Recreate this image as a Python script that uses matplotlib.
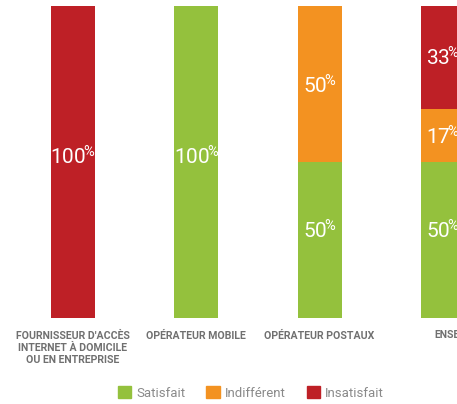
import numpy as np
import matplotlib.pyplot as plt
import matplotlib.transforms as mtransforms
from matplotlib.patches import Patch

plt.rcParams['font.family'] = ['Roboto', 'DejaVu Sans']
plt.rcParams['mathtext.default'] = 'regular'

categories = ["FOURNISSEUR D'ACCÈS\nINTERNET À DOMICILE\nOU EN ENTREPRISE",
              'OPÉRATEUR MOBILE', 'OPÉRATEUR POSTAUX', 'ENSEMBLE']
satisfait = np.array([0, 100, 50, 50])
indifferent = np.array([0, 0, 50, 17])
insatisfait = np.array([100, 0, 0, 33])
series_names = ['Satisfait', 'Indifférent', 'Insatisfait']
colors = ['#94c13d', '#f39221', '#be2026']
label_shift = [2.9, -0.6, -0.3]   # small nudges of the value labels (data units)

fig = plt.figure(figsize=(4.57, 4.04), dpi=100)
ax = fig.add_axes([0.0247, 0.2129, 1.0795, 0.7723])

x = np.arange(len(categories))
w = 0.357
bottom = np.zeros(len(categories))
for vals, c, sh in zip([satisfait, indifferent, insatisfait], colors, label_shift):
    ax.bar(x, vals, w, bottom=bottom, color=c, linewidth=0)
    for xi, b, v in zip(x, bottom, vals):
        if v > 0:
            dy = 1.7 if v == 100 else sh
            ax.text(xi, b + v / 2 + dy, '%d$^{\\!\\%%}$' % v,
                    ha='center', va='center', color='white', fontsize=15)
    bottom += vals

ax.set_xlim(-0.5, 3.5)
ax.set_ylim(0, 100)
ax.set_xticks(x)
ax.set_xticklabels(categories, fontsize=7.6, fontweight='bold', color='#707070',
                   linespacing=1.3, va='top')
ax.tick_params(axis='x', length=0, pad=9)
# last label sits a bit to the right in the original
lbl = ax.get_xticklabels()[-1]
lbl.set_transform(lbl.get_transform() +
                  mtransforms.ScaledTranslation(18 / 100, 0, fig.dpi_scale_trans))
ax.set_yticks([])
for s in ax.spines.values():
    s.set_visible(False)

handles = [Patch(color=c, label=n) for c, n in zip(colors, series_names)]
fig.legend(handles=handles, loc='center', bbox_to_anchor=(0.549, 0.027), ncol=3,
           frameon=False, fontsize=9.5, labelcolor='#8a8a8a', handlelength=1.0,
           handleheight=1.0, handletextpad=0.4, columnspacing=1.6)

plt.savefig('out.png', dpi=100)
